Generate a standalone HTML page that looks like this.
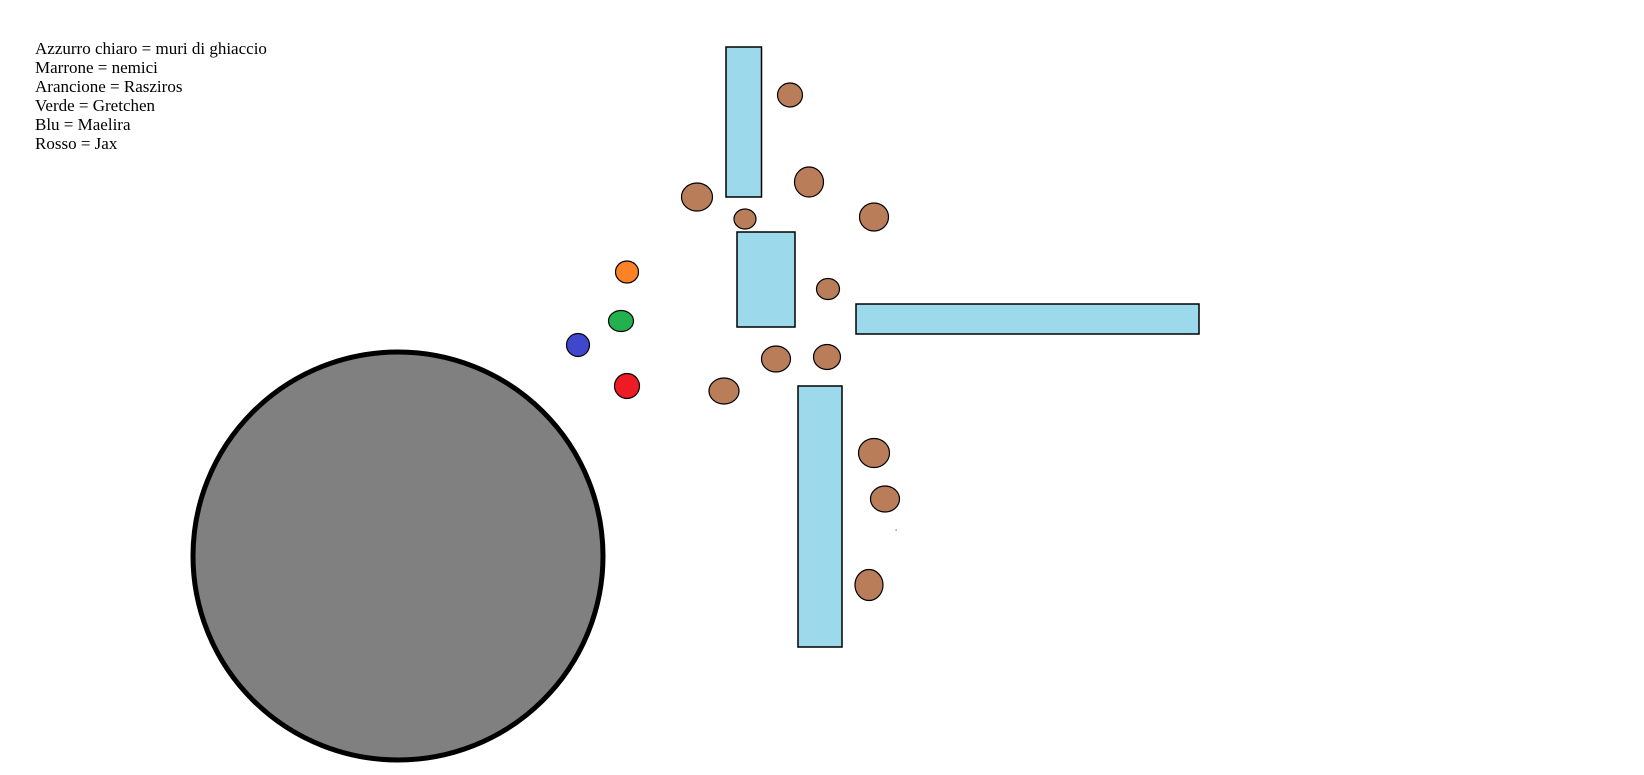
<!DOCTYPE html>
<html><head><meta charset="utf-8"><style>
html,body{margin:0;padding:0;background:#fff;width:1644px;height:775px;overflow:hidden}
.t{position:absolute;left:35px;top:39px;font-family:"Liberation Serif",serif;font-size:17px;line-height:19px;color:#000}
svg{position:absolute;left:0;top:0}
</style></head><body>
<svg width="1644" height="775" viewBox="0 0 1644 775">
<g fill="#9cd9ea" stroke="#000" stroke-width="1.5">
<rect x="726" y="47" width="35.5" height="150"/>
<rect x="737" y="232" width="58" height="95"/>
<rect x="856" y="304" width="343" height="30"/>
<rect x="798" y="386" width="44" height="261"/>
</g>
<ellipse cx="398" cy="556" rx="205" ry="204" fill="#808080" stroke="#000" stroke-width="5"/>
<g fill="#b97d5a" stroke="#000" stroke-width="1.2">
<ellipse cx="790" cy="95" rx="12.5" ry="12"/>
<ellipse cx="697" cy="197" rx="15.5" ry="14"/>
<ellipse cx="809" cy="182" rx="14.5" ry="15"/>
<ellipse cx="745" cy="219" rx="11" ry="10"/>
<ellipse cx="874" cy="217" rx="14.5" ry="14"/>
<ellipse cx="828" cy="289" rx="11.5" ry="10.5"/>
<ellipse cx="776" cy="359" rx="14.5" ry="13"/>
<ellipse cx="827" cy="357" rx="13.5" ry="12.5"/>
<ellipse cx="724" cy="391" rx="15" ry="13"/>
<ellipse cx="874" cy="453" rx="15.5" ry="14.5"/>
<ellipse cx="885" cy="499" rx="14.5" ry="13"/>
<ellipse cx="869" cy="585" rx="14" ry="15.5"/>
</g>
<g stroke="#000" stroke-width="1.2">
<ellipse cx="627" cy="272" rx="11.5" ry="11" fill="#fd8127"/>
<ellipse cx="621" cy="321" rx="12.5" ry="10.5" fill="#22b14c"/>
<ellipse cx="578" cy="345" rx="11.5" ry="11.5" fill="#3f48cc"/>
<ellipse cx="627" cy="386" rx="12.5" ry="12.5" fill="#ed1c24"/>
</g>
<rect x="895.5" y="529.5" width="1.2" height="1.2" fill="#555"/>
</svg>
<div class="t">Azzurro chiaro = muri di ghiaccio<br>Marrone = nemici<br>Arancione = Rasziros<br>Verde = Gretchen<br>Blu = Maelira<br>Rosso = Jax</div>
</body></html>
